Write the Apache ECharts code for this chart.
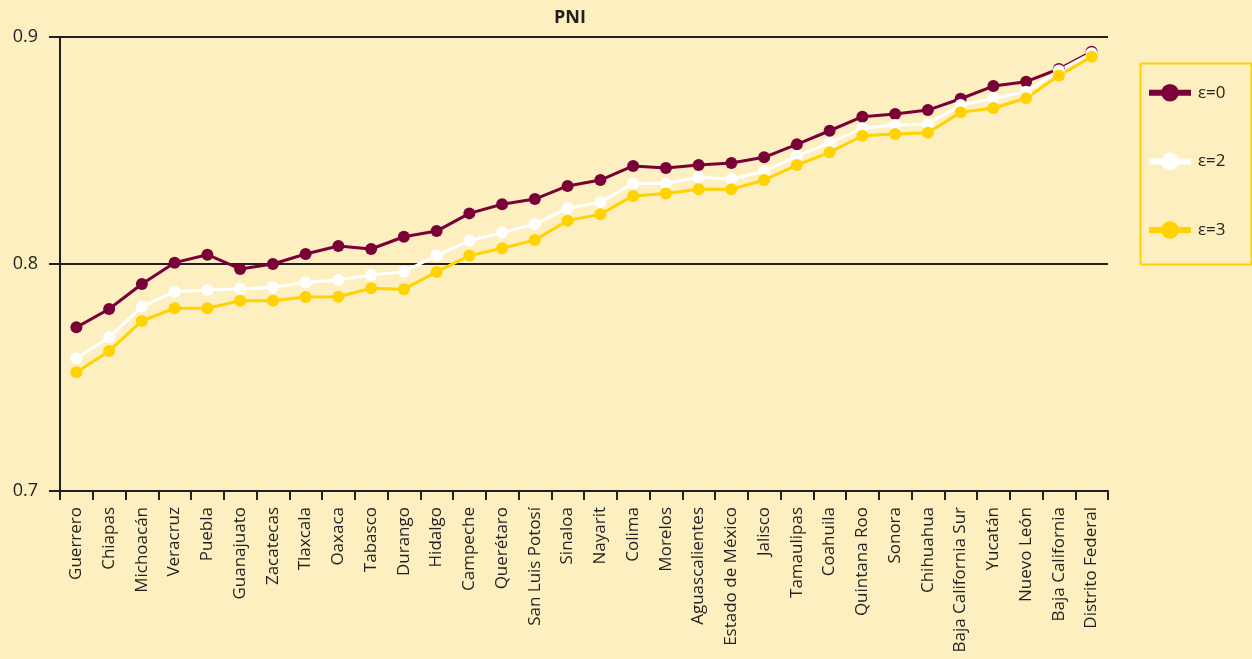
<!DOCTYPE html>
<html>
<head>
<meta charset="utf-8">
<script src="https://cdn.jsdelivr.net/npm/echarts@6/dist/echarts.min.js"></script>
<style>
html,body{margin:0;padding:0;background:#FDEFBF;}
#c{width:1252px;height:659px;}
</style>
</head>
<body>
<div id="c"></div>
<script>
const categories = ["Guerrero","Chiapas","Michoacán","Veracruz","Puebla","Guanajuato","Zacatecas","Tlaxcala","Oaxaca","Tabasco","Durango","Hidalgo","Campeche","Querétaro","San Luis Potosí","Sinaloa","Nayarit","Colima","Morelos","Aguascalientes","Estado de México","Jalisco","Tamaulipas","Coahuila","Quintana Roo","Sonora","Chihuahua","Baja California Sur","Yucatán","Nuevo León","Baja California","Distrito Federal"];
const eps0 = [0.7721,0.7802,0.7912,0.8006,0.8041,0.7978,0.8000,0.8044,0.8079,0.8066,0.8120,0.8145,0.8223,0.8263,0.8286,0.8344,0.8370,0.8432,0.8423,0.8436,0.8445,0.8470,0.8527,0.8587,0.8649,0.8661,0.8678,0.8728,0.8784,0.8803,0.8859,0.8935];
const eps2 = [0.7585,0.7677,0.7812,0.7878,0.7885,0.7891,0.7897,0.7919,0.7930,0.7952,0.7966,0.8037,0.8103,0.8138,0.8176,0.8245,0.8272,0.8355,0.8355,0.8382,0.8374,0.8408,0.8476,0.8532,0.8598,0.8612,0.8617,0.8700,0.8730,0.8759,0.8852,0.8928];
const eps3 = [0.7523,0.7617,0.7749,0.7805,0.7805,0.7838,0.7838,0.7855,0.7856,0.7893,0.7889,0.7965,0.8037,0.8069,0.8106,0.8191,0.8219,0.8300,0.8311,0.8329,0.8329,0.8370,0.8436,0.8492,0.8565,0.8573,0.8578,0.8668,0.8687,0.8730,0.8830,0.8913];
const yTicks = [0.7, 0.8, 0.9];
const seriesNames = ["ε=0","ε=2","ε=3"];

const dark = '#231F20';
const colors = ['#7A0038', '#FFFFFF', '#FFD200'];
const font = "'Open Sans', 'Noto Sans', sans-serif";

const chart = echarts.init(document.getElementById('c'), null, {renderer:'canvas'});
function mk(name, data, color) {
  return {
    name: name, type: 'line', data: data,
    symbol: 'circle', symbolSize: 12,
    lineStyle: {color: color, width: 3},
    itemStyle: {color: color, borderWidth: 0},
    emphasis: {disabled: true},
    animation: false
  };
}
chart.setOption({
  backgroundColor: '#FDEFBF',
  animation: false,
  title: {
    text: 'PNI', left: 565, top: 4, textAlign: 'center',
    textStyle: {fontFamily: font, fontSize: 18, fontWeight: 'bold', color: dark}
  },
  grid: {left: 60, right: 144, top: 37, bottom: 168, containLabel: false},
  legend: {
    orient: 'vertical', left: 1141, top: 79, itemGap: 51,
    itemWidth: 42, itemHeight: 22,
    data: seriesNames,
    textStyle: {fontFamily: font, fontSize: 17, color: dark, padding: [0,0,0,2]},
    lineStyle: {width: 6},
    selectedMode: false
  },
  graphic: [{
    type: 'rect', left: 1138, top: 61,
    shape: {width: 111, height: 201},
    style: {fill: 'none', stroke: '#FFD200', lineWidth: 2}
  }],
  xAxis: {
    type: 'category', data: categories, boundaryGap: true,
    axisLine: {show: true, lineStyle: {color: dark, width: 2}},
    axisTick: {show: true, length: 9, lineStyle: {color: dark, width: 2}, alignWithLabel: false},
    axisLabel: {rotate: 90, interval: 0, margin: 16, fontFamily: font, fontSize: 17, color: dark}
  },
  yAxis: {
    type: 'value', min: 0.7, max: 0.9, interval: 0.1,
    axisLine: {show: true, lineStyle: {color: dark, width: 2}},
    axisTick: {show: true, length: 11, lineStyle: {color: dark, width: 2}},
    axisLabel: {margin: 22, fontFamily: font, fontSize: 18, color: dark,
      formatter: v => yTicks.find(t => Math.abs(t - v) < 1e-9) !== undefined ? v.toFixed(1) : ''},
    splitLine: {show: true, lineStyle: {color: dark, width: 2}}
  },
  series: [mk(seriesNames[0], eps0, colors[0]), mk(seriesNames[1], eps2, colors[1]), mk(seriesNames[2], eps3, colors[2])]
});
</script>
</body>
</html>
